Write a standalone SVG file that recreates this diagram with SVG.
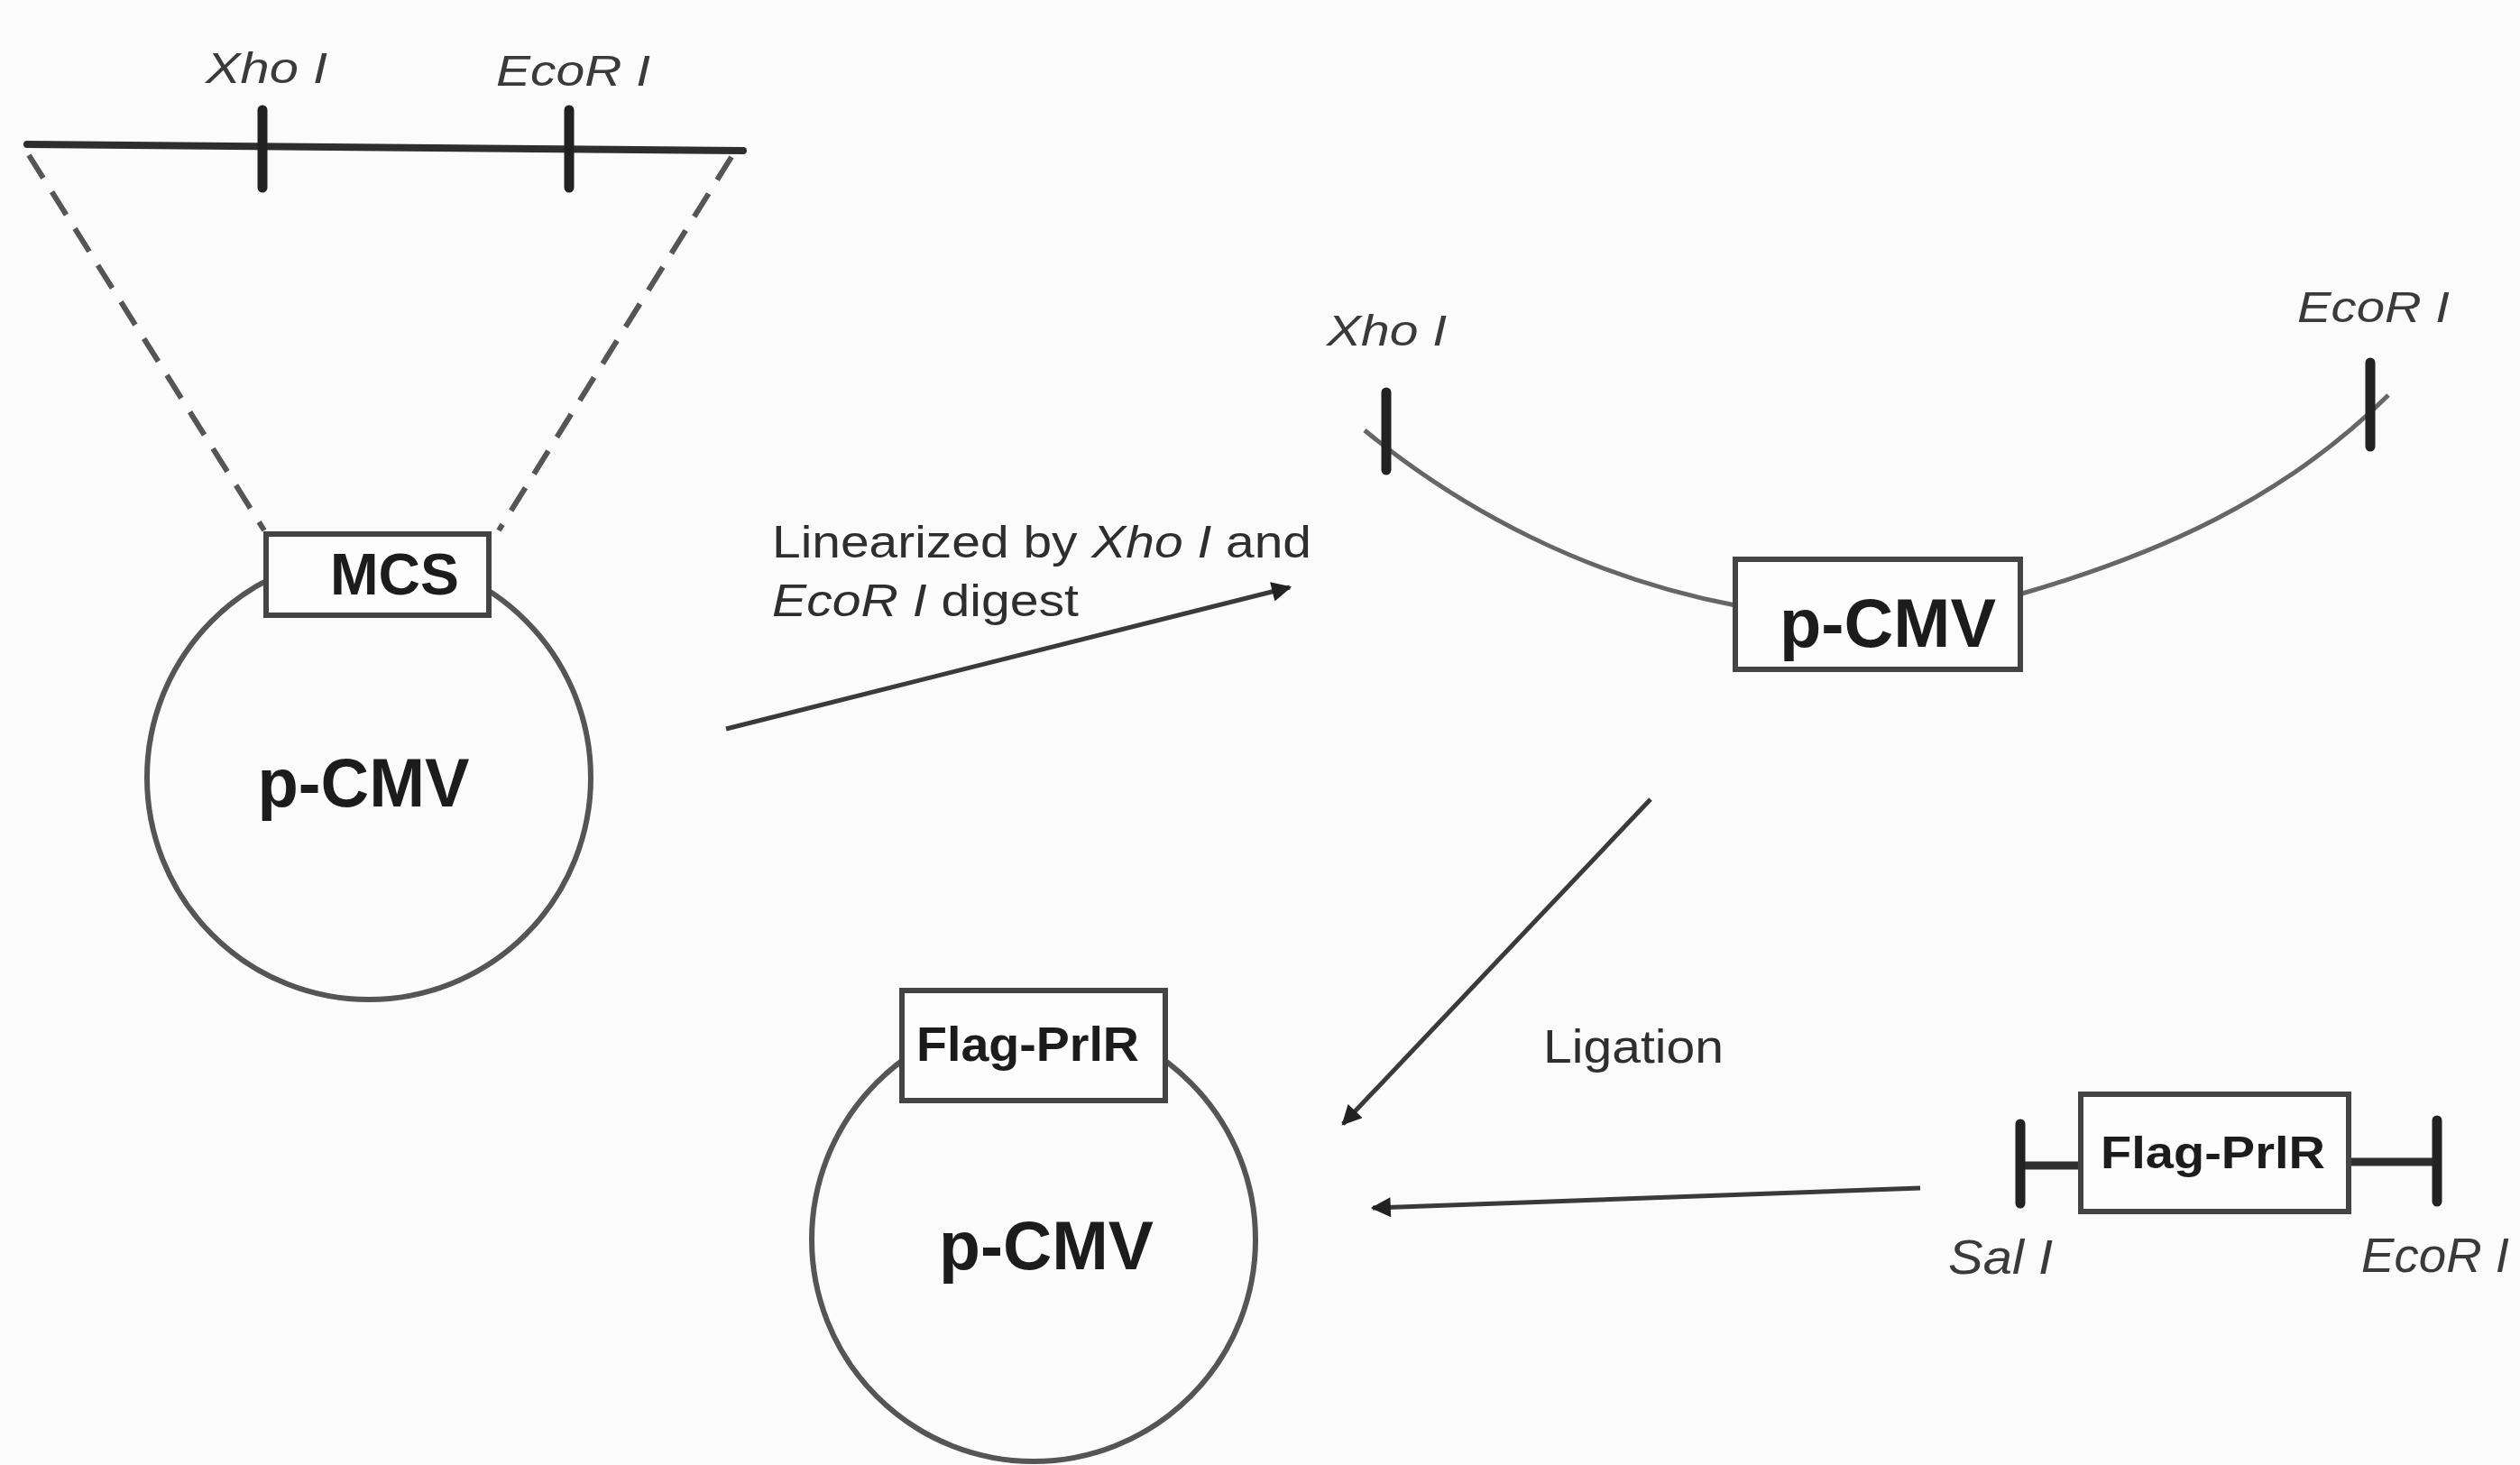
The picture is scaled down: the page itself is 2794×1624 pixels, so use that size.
<svg xmlns="http://www.w3.org/2000/svg" width="2794" height="1624" viewBox="0 0 2794 1624">
<defs>
<style>
.bg{fill:#fbfbfb}
.ln{stroke:#2e2e2e;fill:none;stroke-linecap:round}
.tick{stroke:#222;stroke-width:11;stroke-linecap:round}
.dash{stroke:#555;stroke-width:6;fill:none;stroke-dasharray:30 18}
.circ{stroke:#555;stroke-width:6;fill:none}
.box{stroke:#444;stroke-width:6;fill:#fdfdfd}
.arc{stroke:#666;stroke-width:5;fill:none}
.lab{font-family:"Liberation Sans",Arial,sans-serif;font-style:italic;fill:#3a3a3a}
.bold{font-family:"Liberation Sans",Arial,sans-serif;font-weight:bold;fill:#1c1c1c}
.txt{font-family:"Liberation Sans",Arial,sans-serif;fill:#2e2e2e}
.conn{stroke:#3a3a3a;stroke-width:5;fill:none}
</style>
<marker id="ah" viewBox="0 0 10 10" refX="9" refY="5" markerUnits="userSpaceOnUse" markerWidth="26" markerHeight="22" orient="auto">
<path d="M0,0 L10,5 L0,10 z" fill="#222"/>
</marker>
</defs>
<rect class="bg" x="0" y="0" width="2794" height="1624"/>

<g id="mcs-map">
<line class="ln" x1="30" y1="160" x2="824" y2="167" stroke-width="8"/>
<line class="tick" x1="291" y1="122" x2="291" y2="208"/>
<line class="tick" x1="631" y1="122" x2="631" y2="208"/>
<text class="lab" x="228" y="92" font-size="48" textLength="135" lengthAdjust="spacingAndGlyphs">Xho I</text>
<text class="lab" x="550" y="95" font-size="48" textLength="171" lengthAdjust="spacingAndGlyphs">EcoR I</text>
<line class="dash" x1="32" y1="172" x2="293" y2="588"/>
<line class="dash" x1="811" y1="174" x2="553" y2="588"/>
</g>

<g id="plasmid-pcmv">
<circle class="circ" cx="409" cy="862" r="246"/>
<rect class="box" x="295" y="592" width="247" height="90"/>
<text class="bold" x="366" y="659" font-size="64" textLength="143" lengthAdjust="spacingAndGlyphs">MCS</text>
<text class="bold" x="403" y="894" font-size="76" text-anchor="middle" textLength="235" lengthAdjust="spacingAndGlyphs">p-CMV</text>
</g>

<g id="linear-vector">
<path class="arc" d="M1513,477 C1620,565 1760,640 1924,671"/>
<path class="arc" d="M2242,658 C2390,615 2530,555 2648,438"/>
<line class="tick" x1="1537" y1="435" x2="1537" y2="521" stroke-width="10"/>
<line class="tick" x1="2628" y1="402" x2="2628" y2="495" stroke-width="10"/>
<text class="lab" x="1471" y="383" font-size="48" textLength="133" lengthAdjust="spacingAndGlyphs">Xho I</text>
<text class="lab" x="2547" y="357" font-size="48" textLength="169" lengthAdjust="spacingAndGlyphs">EcoR I</text>
<rect class="box" x="1924" y="620" width="316" height="122"/>
<text class="bold" x="2093" y="717" font-size="76" text-anchor="middle" textLength="240" lengthAdjust="spacingAndGlyphs">p-CMV</text>
</g>

<g id="plasmid-flag-prlr">
<circle class="circ" cx="1146" cy="1374" r="246"/>
<rect class="box" x="1000" y="1098" width="292" height="122"/>
<text class="bold" x="1016" y="1176" font-size="54" textLength="247" lengthAdjust="spacingAndGlyphs">Flag-PrlR</text>
<text class="bold" x="1160" y="1407" font-size="76" text-anchor="middle" textLength="238" lengthAdjust="spacingAndGlyphs">p-CMV</text>
</g>

<g id="insert-fragment">
<line class="ln" x1="2240" y1="1292" x2="2307" y2="1292" stroke-width="9"/>
<line class="ln" x1="2604" y1="1288" x2="2702" y2="1288" stroke-width="9"/>
<line class="tick" x1="2240" y1="1246" x2="2240" y2="1334"/>
<line class="tick" x1="2702" y1="1242" x2="2702" y2="1332"/>
<rect class="box" x="2307" y="1213" width="297" height="130"/>
<text class="bold" x="2329" y="1295" font-size="50" textLength="249" lengthAdjust="spacingAndGlyphs">Flag-PrlR</text>
<text class="lab" x="2160" y="1412" font-size="54" textLength="116" lengthAdjust="spacingAndGlyphs">Sal I</text>
<text class="lab" x="2618" y="1410" font-size="54" textLength="164" lengthAdjust="spacingAndGlyphs">EcoR I</text>
</g>

<g id="connectors">
<line class="conn" x1="805" y1="808" x2="1430" y2="651" marker-end="url(#ah)"/>
<text class="txt" x="856" y="618" font-size="50" textLength="598" lengthAdjust="spacingAndGlyphs"><tspan>Linearized by </tspan><tspan font-style="italic">Xho I</tspan><tspan> and</tspan></text>
<text class="txt" x="856" y="683" font-size="50" textLength="340" lengthAdjust="spacingAndGlyphs"><tspan font-style="italic">EcoR I</tspan><tspan> digest</tspan></text>
<line class="conn" x1="1830" y1="886" x2="1489" y2="1246" stroke-width="6" marker-end="url(#ah)"/>
<text class="txt" x="1711" y="1178" font-size="52" textLength="200" lengthAdjust="spacingAndGlyphs">Ligation</text>
<line class="conn" x1="2129" y1="1317" x2="1522" y2="1339" stroke="#555" marker-end="url(#ah)"/>
</g>
</svg>
